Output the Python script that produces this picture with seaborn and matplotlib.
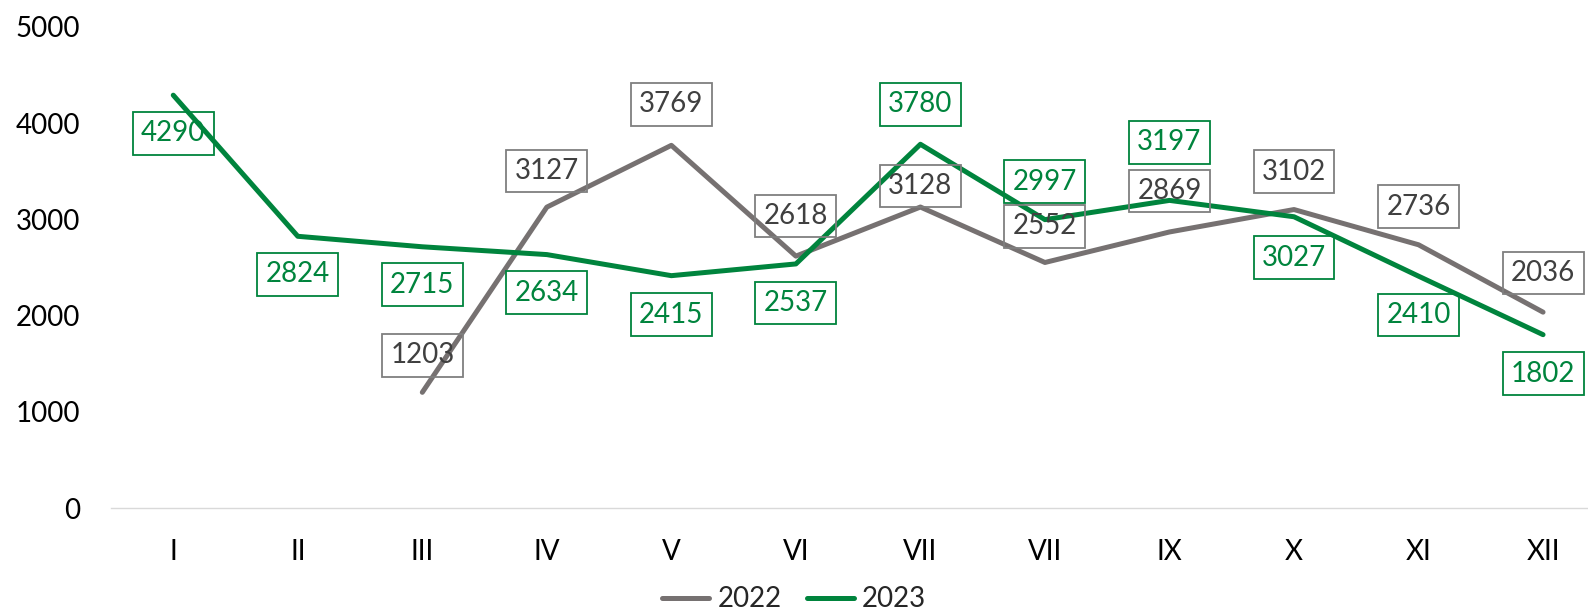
import numpy as np
import pandas as pd
import matplotlib
matplotlib.use("Agg")
import matplotlib.pyplot as plt
import seaborn as sns

# data
months = ["I", "II", "III", "IV", "V", "VI", "VII", "VII", "IX", "X", "XI", "XII"]
values_2022 = [np.nan, np.nan, 1203, 3127, 3769, 2618, 3128, 2552, 2869, 3102, 2736, 2036]
values_2023 = [4290, 2824, 2715, 2634, 2415, 2537, 3780, 2997, 3197, 3027, 2410, 1802]

# label offsets (pixels, relative to point)
offsets_2022 = [0, 0, 37, 36, 41, 40, 21, 36, 41, 38, 38, 39]
offsets_2023 = [-38, -38, -38, -38, -39, -39, 40, 38, 58, -41, -39, -39]

GRAY = "#767171"
GREEN = "#00843D"
FS = 20

sns.set_theme(style="white")
plt.rcParams["font.family"] = ["Lato", "DejaVu Sans"]

df = pd.DataFrame({
    "pos": list(range(12)) * 2,
    "value": values_2022 + values_2023,
    "year": ["2022"] * 12 + ["2023"] * 12,
})
df = df.dropna()

fig = plt.figure(figsize=(15.88, 6.10), dpi=100)
# plot area runs slightly past the right edge, like the original
ax = fig.add_axes([0.0699, 0.167, 0.941, 0.789])

sns.lineplot(data=df, x="pos", y="value", hue="year",
             palette={"2022": GRAY, "2023": GREEN},
             linewidth=3.6, ax=ax, legend=False)

def label(series, offs, color, textcolor):
    for i, (v, dy) in enumerate(zip(series, offs)):
        if np.isnan(v):
            continue
        ax.annotate(f"{int(v)}", xy=(i, v), xytext=(0, dy),
                    textcoords="offset pixels", ha="center", va="center",
                    fontsize=FS, color=textcolor,
                    bbox=dict(boxstyle="square,pad=0.3", fc="none",
                              ec=color, lw=1.3))

label(values_2022, offsets_2022, "#7f7f7f", "#404040")
label(values_2023, offsets_2023, GREEN, GREEN)

ax.set_xlim(-0.5, 11.5)
ax.set_ylim(0, 5000)
ax.set_xticks(range(12))
ax.set_xticklabels(months)
ax.set_yticks(range(0, 5001, 1000))
ax.tick_params(axis="x", length=0, pad=22, labelsize=FS, colors="black")
ax.tick_params(axis="y", length=0, pad=22, labelsize=FS, colors="black")
ax.set_xlabel("")
ax.set_ylabel("")
for s in ["top", "right", "left"]:
    ax.spines[s].set_visible(False)
ax.spines["bottom"].set_color("#d9d9d9")
ax.spines["bottom"].set_linewidth(1.0)

handles = [plt.Line2D([], [], color=GRAY, lw=3.6, solid_capstyle="round"),
           plt.Line2D([], [], color=GREEN, lw=3.6, solid_capstyle="round")]
fig.legend(handles, ["2022", "2023"], loc="lower center",
           bbox_to_anchor=(0.5, -0.045), ncol=2, frameon=False,
           fontsize=FS, handlelength=1.7, handletextpad=0.3, columnspacing=0.9)

fig.savefig("out.png", dpi=100)
